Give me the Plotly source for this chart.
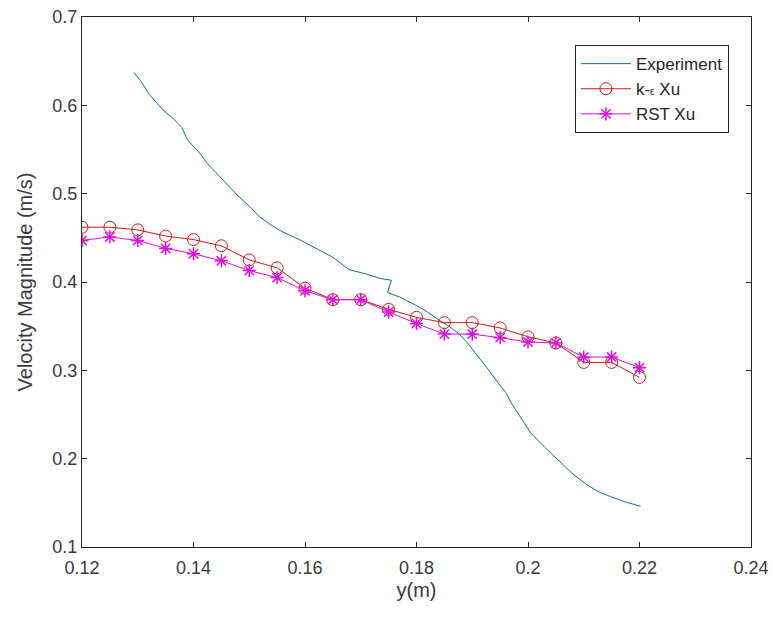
import plotly.graph_objects as go

# Simulation stations along y (m)
y_sim = [0.120, 0.125, 0.130, 0.135, 0.140, 0.145, 0.150, 0.155, 0.160, 0.165, 0.170,
         0.175, 0.180, 0.185, 0.190, 0.195, 0.200, 0.205, 0.210, 0.215, 0.220]

# k-epsilon (Xu) velocity magnitude
ke_xu = [0.462, 0.462, 0.459, 0.452, 0.448, 0.441, 0.425, 0.416, 0.393, 0.380, 0.380,
         0.369, 0.360, 0.354, 0.354, 0.348, 0.338, 0.331, 0.309, 0.309, 0.292]

# Reynolds stress (Xu) velocity magnitude
rst_xu = [0.447, 0.451, 0.447, 0.438, 0.432, 0.424, 0.413, 0.405, 0.390, 0.380, 0.380,
          0.366, 0.353, 0.341, 0.341, 0.337, 0.332, 0.331, 0.315, 0.315, 0.303]

# Measured profile
y_exp = [0.1293, 0.1305, 0.1321, 0.1332, 0.1345, 0.1362, 0.1379, 0.1389, 0.1400, 0.1411,
         0.1425, 0.1441, 0.1460, 0.1482, 0.1500, 0.1518, 0.1538, 0.1559, 0.1590, 0.1621,
         0.1650, 0.1679, 0.1710, 0.1735, 0.1755, 0.1748, 0.1770, 0.1798, 0.1820, 0.1840,
         0.1858, 0.1875, 0.1893, 0.1911, 0.1930, 0.1946, 0.1960, 0.1970, 0.1988, 0.2005,
         0.2030, 0.2054, 0.2078, 0.2102, 0.2125, 0.2148, 0.2175, 0.2202]
v_exp = [0.637, 0.628, 0.612, 0.604, 0.595, 0.586, 0.575, 0.561, 0.553, 0.546,
         0.534, 0.523, 0.511, 0.496, 0.486, 0.474, 0.465, 0.457, 0.448, 0.438,
         0.428, 0.414, 0.409, 0.404, 0.402, 0.388, 0.383, 0.374, 0.366, 0.357,
         0.350, 0.342, 0.330, 0.315, 0.300, 0.286, 0.275, 0.263, 0.245, 0.229,
         0.213, 0.198, 0.184, 0.172, 0.163, 0.157, 0.151, 0.146]

x_ticks = [0.12, 0.14, 0.16, 0.18, 0.2, 0.22, 0.24]
x_labels = ["0.12", "0.14", "0.16", "0.18", "0.2", "0.22", "0.24"]
y_ticks = [0.1, 0.2, 0.3, 0.4, 0.5, 0.6, 0.7]
y_labels = ["0.1", "0.2", "0.3", "0.4", "0.5", "0.6", "0.7"]

fig = go.Figure()

fig.add_trace(go.Scatter(
    x=y_exp, y=v_exp, mode="lines", name="Experiment",
    line=dict(color="#0b6fa8", width=1),
))
fig.add_trace(go.Scatter(
    x=y_sim, y=ke_xu, mode="lines+markers",
    name="k-<span style='font-size:10px'>ε</span> Xu",
    line=dict(color="#d01818", width=1),
    marker=dict(symbol="circle-open", size=12, color="#d01818", line=dict(width=1)),
))
fig.add_trace(go.Scatter(
    x=y_sim, y=rst_xu, mode="lines+markers", name="RST Xu",
    line=dict(color="#e010e0", width=1),
    marker=dict(symbol="asterisk-open", size=11, color="#e010e0", line=dict(width=1.5)),
))

axis_common = dict(
    showline=True, linecolor="#262626", linewidth=1, mirror="ticks",
    ticks="inside", ticklen=5, tickcolor="#262626",
    showgrid=False, zeroline=False, automargin=False,
    tickfont=dict(family="Liberation Sans, Arial, sans-serif", size=18, color="#3a3a3a"),
)

fig.update_layout(
    width=773, height=619,
    margin=dict(l=82, r=22, t=17, b=72),
    paper_bgcolor="white", plot_bgcolor="white",
    font=dict(family="Liberation Sans, Arial, sans-serif", color="#3a3a3a"),
    xaxis=dict(
        range=[0.12, 0.24], tickvals=x_ticks, ticktext=x_labels,
        ticklabelstandoff=4,
        title=dict(text="y(m)", font=dict(size=20), standoff=6),
        **axis_common,
    ),
    yaxis=dict(
        range=[0.1, 0.7], tickvals=y_ticks, ticktext=y_labels,
        title=dict(text="Velocity Magnitude (m/s)", font=dict(size=20), standoff=14),
        **axis_common,
    ),
    legend=dict(
        x=0.967, y=0.947, xanchor="right", yanchor="top",
        bgcolor="white", bordercolor="#262626", borderwidth=1,
        font=dict(size=17, color="#262626"),
        tracegroupgap=0, itemwidth=50,
    ),
)

fig.write_html("out.html")
